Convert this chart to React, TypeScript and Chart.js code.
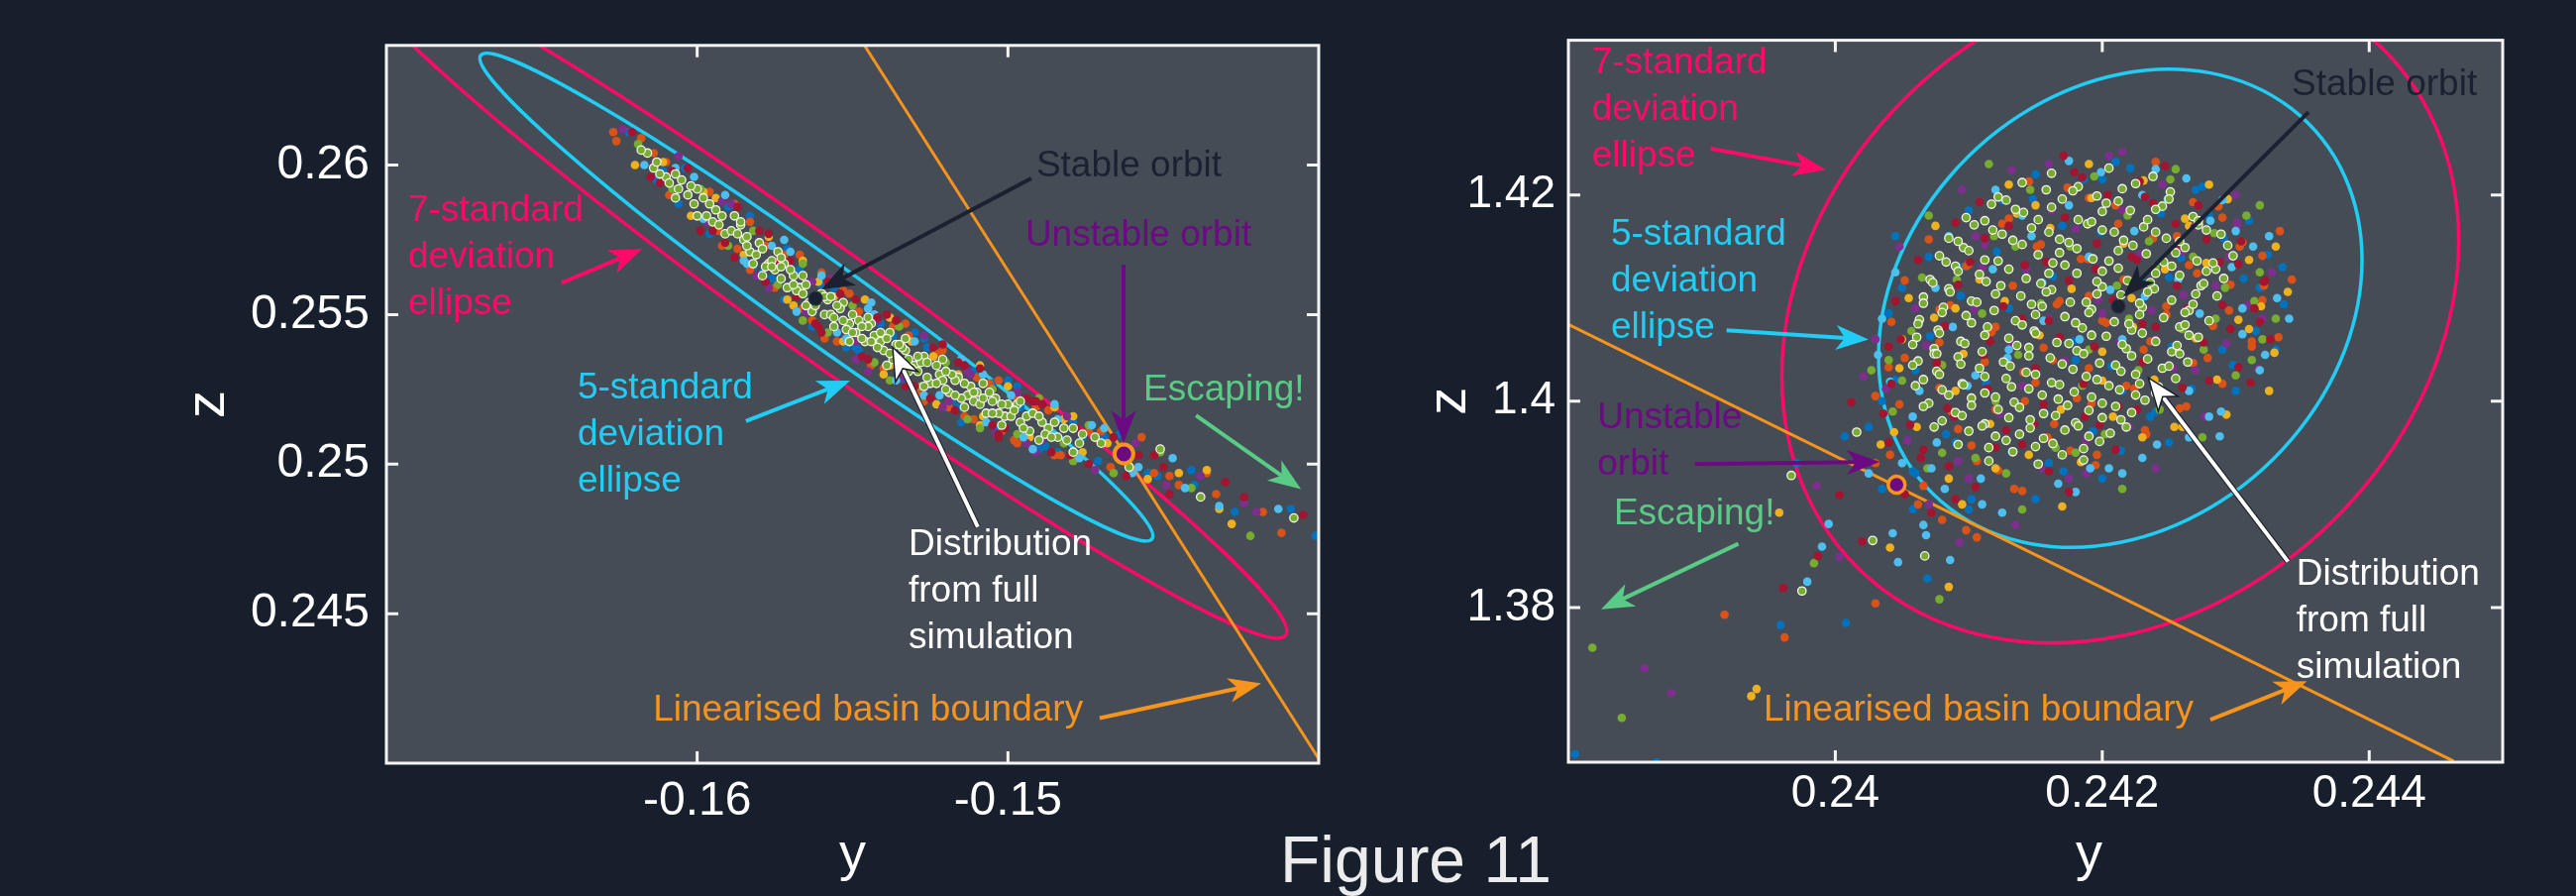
import { useEffect, useRef } from "react";
import { Chart, registerables } from "chart.js";

Chart.register(...registerables);

type P = [number, number];

const FONT = '"Liberation Sans", Arial, Helvetica, sans-serif';
const PAGE_BG = "#171e2c";
const PLOT_BG = "#464c56";
const FRAME = "#f4f4f4";
const PINK = "#ff0a68";
const CYAN = "#22cdf5";
const ORANGE = "#f7941d";
const PURPLE = "#6c0a84";
const NAVY = "#1a2232";
const GREEN_T = "#5acb86";
const WHITE = "#ffffff";
const M_BLUE = "#0072BD";
const M_ORANGE = "#D95319";
const M_YELLOW = "#EDB120";
const M_PURPLE = "#7E2F8E";
const M_GREEN = "#77AC30";
const M_LBLUE = "#4DBEEE";
const M_DRED = "#A2142F";
const NOTE_GAP = 47;

// ---------------- LEFT PANEL DATA ----------------
const leftXRange: P = [-0.17, -0.14];
const leftZRange: P = [0.24, 0.264];
const leftXTicks = [-0.16, -0.15];
const leftXTickLabels = ["-0.16", "-0.15"];
const leftZTicks = [0.245, 0.25, 0.255, 0.26];
const leftZTickLabels = ["0.245", "0.25", "0.255", "0.26"];

const leftStable: P = [-0.15619, 0.25554];
const leftUnstable: P = [-0.14627, 0.25034];
const leftBoundary: P[] = [[-0.154618, 0.264], [-0.139908, 0.24]];
const leftEllipseCenter: P = [-0.156164, 0.255582];
const leftEllipse5: P[] = [[0.010801, -0.008084], [-0.000779, -0.0010575]];
const leftEllipse7: P[] = [[0.015101, -0.011303], [-0.0010833, -0.0014702]];

const leftBlue: P[] = [[-0.1622,0.2611],[-0.1613,0.2595],[-0.1604,0.2599],[-0.1596,0.2577],[-0.1588,0.2583],[-0.1579,0.2564],[-0.1571,0.2572],[-0.1563,0.2546],[-0.1556,0.2559],[-0.1548,0.2538],[-0.1541,0.2547],[-0.1533,0.2527],[-0.1526,0.2539],[-0.1518,0.2521],[-0.1511,0.2531],[-0.1503,0.2512],[-0.1496,0.2519],[-0.1488,0.2506],[-0.1479,0.2514],[-0.1471,0.2501],[-0.1464,0.2510],[-0.1452,0.2496],[-0.1441,0.2498],[-0.1427,0.2484],[-0.1409,0.2485],[-0.1401,0.2476],
  [-0.1606,0.2587],[-0.1590,0.2586],[-0.1576,0.2562],[-0.1560,0.2560],[-0.1549,0.2539],[-0.1530,0.2544],[-0.1516,0.2519],[-0.1500,0.2528],[-0.1484,0.2504],[-0.1469,0.2509],[-0.1455,0.2497],[-0.1440,0.2493],
  [-0.1611,0.2598],[-0.1582,0.2566],[-0.1567,0.2565],[-0.1552,0.2539],[-0.1537,0.2543],[-0.1520,0.2519],[-0.1505,0.2527],[-0.1490,0.2505],[-0.1476,0.2509],
  [-0.1583,0.2583],[-0.1555,0.2561],[-0.1527,0.2542],[-0.1497,0.2526],[-0.1572,0.2555],[-0.1544,0.2533],[-0.1515,0.2514],[-0.1485,0.2503]];
const leftOrange: P[] = [[-0.1627,0.2611],[-0.1626,0.2608],[-0.1618,0.2609],[-0.1609,0.2590],[-0.1600,0.2592],[-0.1592,0.2573],[-0.1583,0.2581],[-0.1575,0.2559],[-0.1567,0.2570],[-0.1559,0.2542],[-0.1551,0.2557],[-0.1544,0.2533],[-0.1537,0.2546],[-0.1529,0.2524],[-0.1521,0.2538],[-0.1514,0.2516],[-0.1506,0.2527],[-0.1498,0.2508],[-0.1491,0.2519],[-0.1483,0.2503],[-0.1474,0.2511],[-0.1467,0.2499],[-0.1457,0.2509],[-0.1448,0.2496],[-0.1436,0.2497],[-0.1418,0.2484],[-0.1412,0.2477],
  [-0.1610,0.2601],[-0.1596,0.2591],[-0.1587,0.2572],[-0.1572,0.2570],[-0.1563,0.2548],[-0.1553,0.2558],[-0.1540,0.2532],[-0.1532,0.2543],[-0.1519,0.2519],[-0.1510,0.2529],[-0.1502,0.2511],[-0.1487,0.2518],[-0.1478,0.2502],[-0.1463,0.2506],[-0.1445,0.2493],[-0.1433,0.2490],
  [-0.1614,0.2604],[-0.1593,0.2578],[-0.1578,0.2573],[-0.1566,0.2552],[-0.1548,0.2551],[-0.1535,0.2529],[-0.1523,0.2537],[-0.1511,0.2515],[-0.1497,0.2522],[-0.1485,0.2503],[-0.1470,0.2511],[-0.1453,0.2497],
  [-0.1588,0.2587],[-0.1560,0.2564],[-0.1533,0.2547],[-0.1503,0.2528],[-0.1583,0.2565],[-0.1555,0.2541],[-0.1527,0.2521],[-0.1497,0.2507]];
const leftYellow: P[] = [[-0.1620,0.2600],[-0.1611,0.2601],[-0.1602,0.2583],[-0.1594,0.2589],[-0.1585,0.2570],[-0.1577,0.2576],[-0.1569,0.2553],[-0.1561,0.2561],[-0.1553,0.2541],[-0.1546,0.2555],[-0.1538,0.2533],[-0.1531,0.2541],[-0.1523,0.2520],[-0.1516,0.2530],[-0.1508,0.2516],[-0.1500,0.2526],[-0.1493,0.2509],[-0.1485,0.2519],[-0.1476,0.2504],[-0.1468,0.2507],[-0.1455,0.2495],[-0.1445,0.2497],[-0.1436,0.2498],[-0.1432,0.2485],[-0.1428,0.2480],
  [-0.1598,0.2591],[-0.1571,0.2555],[-0.1556,0.2556],[-0.1540,0.2530],[-0.1524,0.2536],[-0.1509,0.2513],[-0.1482,0.2515],
  [-0.1566,0.2568],[-0.1538,0.2549],[-0.1509,0.2533],[-0.1479,0.2516]];
const leftPurple: P[] = [[-0.1624,0.2612],[-0.1614,0.2600],[-0.1606,0.2603],[-0.1597,0.2581],[-0.1589,0.2587],[-0.1581,0.2563],[-0.1573,0.2569],[-0.1565,0.2551],[-0.1557,0.2562],[-0.1549,0.2541],[-0.1542,0.2548],[-0.1534,0.2529],[-0.1527,0.2543],[-0.1519,0.2521],[-0.1512,0.2530],[-0.1504,0.2510],[-0.1497,0.2524],[-0.1489,0.2508],[-0.1481,0.2516],[-0.1472,0.2498],[-0.1459,0.2507],[-0.1449,0.2493],[-0.1438,0.2496],[-0.1424,0.2487],[-0.1420,0.2484],
  [-0.1592,0.2588],[-0.1563,0.2561],[-0.1545,0.2531],[-0.1513,0.2531],[-0.1494,0.2507],
  [-0.1577,0.2559],[-0.1549,0.2535],[-0.1521,0.2519],[-0.1491,0.2504]];
const leftGreen: P[] = [[-0.1619,0.2607],[-0.1608,0.2592],[-0.1599,0.2592],[-0.1590,0.2573],[-0.1582,0.2578],[-0.1574,0.2560],[-0.1566,0.2567],[-0.1558,0.2544],[-0.1550,0.2553],[-0.1543,0.2534],[-0.1535,0.2546],[-0.1528,0.2526],[-0.1520,0.2534],[-0.1513,0.2515],[-0.1505,0.2525],[-0.1497,0.2510],[-0.1490,0.2522],[-0.1482,0.2507],[-0.1474,0.2513],[-0.1466,0.2497],[-0.1451,0.2504],[-0.1441,0.2492],[-0.1422,0.2476],
  [-0.1566,0.2548],[-0.1538,0.2528],[-0.1509,0.2512],[-0.1479,0.2501]];
const leftLightBlue: P[] = [[-0.1617,0.2600],[-0.1607,0.2599],[-0.1598,0.2582],[-0.1591,0.2590],[-0.1584,0.2567],[-0.1576,0.2573],[-0.1568,0.2551],[-0.1560,0.2563],[-0.1552,0.2542],[-0.1545,0.2552],[-0.1536,0.2528],[-0.1530,0.2541],[-0.1522,0.2523],[-0.1515,0.2535],[-0.1507,0.2514],[-0.1499,0.2523],[-0.1492,0.2505],[-0.1484,0.2515],[-0.1477,0.2502],[-0.1469,0.2512],[-0.1458,0.2499],[-0.1447,0.2502],[-0.1443,0.2492],[-0.1432,0.2486],[-0.1413,0.2485],
  [-0.1601,0.2596],[-0.1585,0.2568],[-0.1570,0.2571],[-0.1555,0.2544],[-0.1543,0.2550],[-0.1527,0.2523],[-0.1508,0.2530],[-0.1495,0.2509],[-0.1473,0.2513],[-0.1460,0.2497],
  [-0.1572,0.2575],[-0.1544,0.2554],[-0.1515,0.2535],[-0.1485,0.2520]];
const leftDarkRed: P[] = [[-0.1621,0.2611],[-0.1612,0.2594],[-0.1603,0.2599],[-0.1595,0.2578],[-0.1587,0.2586],[-0.1578,0.2561],[-0.1570,0.2568],[-0.1562,0.2547],[-0.1554,0.2557],[-0.1547,0.2536],[-0.1539,0.2550],[-0.1532,0.2531],[-0.1524,0.2539],[-0.1517,0.2518],[-0.1509,0.2532],[-0.1501,0.2512],[-0.1494,0.2522],[-0.1486,0.2504],[-0.1478,0.2512],[-0.1462,0.2496],[-0.1453,0.2503],[-0.1448,0.2490],[-0.1424,0.2489],[-0.1405,0.2483],
  [-0.1615,0.2596],[-0.1599,0.2578],[-0.1580,0.2578],[-0.1568,0.2556],[-0.1558,0.2561],[-0.1545,0.2535],[-0.1536,0.2548],[-0.1525,0.2522],[-0.1514,0.2533],[-0.1505,0.2513],[-0.1492,0.2521],[-0.1480,0.2503],[-0.1466,0.2509],[-0.1450,0.2499],[-0.1430,0.2494],
  [-0.1608,0.2598],[-0.1591,0.2574],[-0.1574,0.2568],[-0.1561,0.2546],[-0.1542,0.2549],[-0.1530,0.2526],[-0.1516,0.2534],[-0.1503,0.2510],[-0.1489,0.2520],[-0.1474,0.2500],[-0.1458,0.2503],
  [-0.1577,0.2577],[-0.1549,0.2555],[-0.1521,0.2540],[-0.1491,0.2521],[-0.1588,0.2569],[-0.1560,0.2544],[-0.1533,0.2526],[-0.1503,0.2509]];
const leftSim: P[] = [[-0.1616,0.2604],[-0.1610,0.2596],[-0.1618,0.2605],[-0.1612,0.2597],[-0.1607,0.2597],[-0.1607,0.2589],[-0.1603,0.2590],[-0.1600,0.2592],[-0.1600,0.2583],[-0.1597,0.2583],[-0.1594,0.2585],[-0.1591,0.2577],[-0.1588,0.2583],[-0.1585,0.2575],[-0.1582,0.2567],[-0.1580,0.2574],[-0.1577,0.2567],[-0.1574,0.2571],[-0.1571,0.2559],[-0.1569,0.2563],[-0.1566,0.2563],[-0.1564,0.2554],[-0.1558,0.2555],[-0.1556,0.2546],[-0.1553,0.2554],[-0.1551,0.2547],[-0.1548,0.2548],[-0.1546,0.2541],[-0.1543,0.2543],[-0.1540,0.2538],[-0.1538,0.2544],[-0.1535,0.2532],[-0.1533,0.2538],[-0.1530,0.2533],[-0.1527,0.2536],[-0.1525,0.2527],[-0.1522,0.2530],[-0.1519,0.2524],[-0.1516,0.2529],[-0.1513,0.2523],[-0.1510,0.2524],[-0.1507,0.2517],[-0.1504,0.2522],[-0.1501,0.2516],[-0.1497,0.2520],[-0.1493,0.2511],[-0.1489,0.2514],[-0.1484,0.2509],[-0.1479,0.2512],[-0.1479,0.2504],[-0.1461,0.2499],[-0.1451,0.2505],[-0.1438,0.2489],[-0.1408,0.2482],[-0.1584,0.2576],[-0.1576,0.2568],[-0.1572,0.2567],[-0.1567,0.2559],[-0.1561,0.2555],[-0.1559,0.2550],[-0.1554,0.2552],[-0.1549,0.2544],[-0.1544,0.2547],[-0.1541,0.2541],[-0.1536,0.2540],[-0.1531,0.2532],[-0.1528,0.2534],[-0.1521,0.2528],[-0.1517,0.2528],[-0.1511,0.2521],[-0.1505,0.2521],[-0.1499,0.2516],[-0.1494,0.2516],[-0.1487,0.2512],
  [-0.1614,0.2599],[-0.1609,0.2594],[-0.1605,0.2595],[-0.1601,0.2587],[-0.1598,0.2589],[-0.1595,0.2581],[-0.1592,0.2583],[-0.1589,0.2578],[-0.1586,0.2580],[-0.1583,0.2571],[-0.1579,0.2572],[-0.1578,0.2566],[-0.1575,0.2565],[-0.1573,0.2562],[-0.1570,0.2565],[-0.1568,0.2558],[-0.1565,0.2560],[-0.1563,0.2551],[-0.1560,0.2557],[-0.1557,0.2550],[-0.1555,0.2553],[-0.1552,0.2545],[-0.1550,0.2550],[-0.1547,0.2542],[-0.1545,0.2546],[-0.1542,0.2539],[-0.1539,0.2542],[-0.1537,0.2535],[-0.1534,0.2539],[-0.1532,0.2531],[-0.1529,0.2536],[-0.1526,0.2529],[-0.1523,0.2533],[-0.1520,0.2525],[-0.1518,0.2530],[-0.1515,0.2522],[-0.1512,0.2526],[-0.1509,0.2520],[-0.1506,0.2524],[-0.1503,0.2517],[-0.1500,0.2520],[-0.1496,0.2514],[-0.1492,0.2517],[-0.1488,0.2510],[-0.1485,0.2514],[-0.1481,0.2508],[-0.1476,0.2510],[-0.1470,0.2507],
  [-0.1613,0.2601],[-0.1606,0.2592],[-0.1602,0.2593],[-0.1596,0.2587],[-0.1593,0.2580],[-0.1587,0.2577],[-0.1584,0.2573],[-0.1581,0.2570],[-0.1576,0.2566],[-0.1573,0.2566],[-0.1569,0.2560],[-0.1566,0.2557],[-0.1562,0.2553],[-0.1559,0.2556],[-0.1556,0.2549],[-0.1553,0.2548],[-0.1550,0.2544],[-0.1547,0.2546],[-0.1544,0.2541],[-0.1541,0.2544],[-0.1538,0.2537],[-0.1535,0.2540],[-0.1532,0.2535],[-0.1529,0.2531],[-0.1526,0.2534],[-0.1523,0.2527],[-0.1520,0.2531],[-0.1517,0.2523],[-0.1514,0.2527],[-0.1511,0.2524],[-0.1508,0.2522],[-0.1505,0.2517],[-0.1502,0.2520],[-0.1498,0.2518],[-0.1495,0.2512],[-0.1490,0.2516],[-0.1486,0.2509],[-0.1482,0.2512],[-0.1477,0.2507],[-0.1472,0.2509],
  [-0.1586,0.2581],[-0.1579,0.2563],[-0.1573,0.2569],[-0.1565,0.2553],[-0.1557,0.2556],[-0.1551,0.2541],[-0.1545,0.2549],[-0.1539,0.2533],[-0.1533,0.2542],[-0.1527,0.2526],[-0.1521,0.2535],[-0.1514,0.2519],[-0.1508,0.2527],[-0.1502,0.2513],[-0.1496,0.2521],[-0.1490,0.2508]];

const leftNoteText: string[][] = [["7-standard","deviation","ellipse"],["5-standard","deviation","ellipse"],["Stable orbit"],["Unstable orbit"],["Escaping!"],["Distribution","from full","simulation"],["Linearised basin boundary"]];
const leftNoteAt: P[] = [[-0.16930,0.25846],[-0.16385,0.25253],[-0.14909,0.25995],[-0.14944,0.25764],[-0.14564,0.25247],[-0.15320,0.24731],[-0.16142,0.24177]];
const leftArrowFrom: P[] = [[-0.16436,0.25606],[-0.15843,0.25144],[-0.14925,0.25955],[-0.14628,0.25667],[-0.14395,0.25163],[-0.15097,0.24790],[-0.14705,0.24151]];
const leftArrowTo: P[] = [[-0.16177,0.25719],[-0.15508,0.25279],[-0.15600,0.25584],[-0.14628,0.25070],[-0.14057,0.24916],[-0.15371,0.25391],[-0.14185,0.24267]];

// ---------------- RIGHT PANEL DATA ----------------
const rightXRange: P = [0.238, 0.245];
const rightZRange: P = [1.365, 1.435];
const rightXTicks = [0.24, 0.242, 0.244];
const rightXTickLabels = ["0.24", "0.242", "0.244"];
const rightZTicks = [1.38, 1.4, 1.42];
const rightZTickLabels = ["1.38", "1.4", "1.42"];

const rightStable: P = [0.24212, 1.4092];
const rightUnstable: P = [0.240459, 1.3919];
const rightBoundary: P[] = [[0.238, 1.40744], [0.244632, 1.3651]];
const rightEllipseCenter: P = [0.242135, 1.40901];
const rightEllipse5: P[] = [[0.0018112, 0.0046915], [0, -0.022707]];
const rightEllipse7: P[] = [[0.0025357, 0.0065681], [0, -0.031789]];

const rightBlue: P[] = [[0.24025,1.3975],[0.24045,1.4021],[0.24058,1.3932],[0.24071,1.4063],[0.24083,1.3968],[0.24094,1.4102],[0.24102,1.3905],[0.24113,1.4018],[0.24121,1.4145],[0.24132,1.3951],[0.24139,1.4079],[0.24148,1.4196],[0.24157,1.3988],[0.24163,1.4121],[0.24171,1.3932],[0.24178,1.4058],[0.24186,1.4215],[0.24193,1.3971],[0.24199,1.4164],[0.24207,1.4034],[0.24214,1.3952],[0.24221,1.4226],[0.24229,1.4097],[0.24236,1.3985],[0.24244,1.4182],[0.24252,1.4053],[0.24259,1.4139],[0.24267,1.4012],[0.24275,1.4208],[0.24283,1.4077],[0.24291,1.4158],[0.24298,1.4035],[0.24306,1.4119],[0.24315,1.4068],[0.24324,1.4142],[0.24336,1.4094],[0.23805,1.3658],[0.23866,1.3650],[0.24008,1.3785],[0.23959,1.3783],[0.24069,1.3828],[0.24007,1.3966],[0.23971,1.3940],
  [0.24040,1.4085],[0.24035,1.4000],[0.24060,1.3930],[0.24100,1.3895],[0.24150,1.3905],[0.24200,1.3925],[0.24250,1.3960],[0.24300,1.4010],[0.24330,1.4050],[0.24335,1.4130],[0.24310,1.4175],[0.24270,1.4205],[0.24210,1.4232],[0.24150,1.4220],[0.24100,1.4185],[0.24070,1.4140],[0.24050,1.4110],[0.24180,1.4040],[0.24230,1.4115],[0.24130,1.4090],
  [0.24045,1.4160],[0.24060,1.4030],[0.24090,1.3960],[0.24160,1.3940],[0.24240,1.3990],[0.24290,1.4050],[0.24318,1.4110],[0.24280,1.4180],[0.24200,1.4215],[0.24125,1.4195],[0.24095,1.4130],[0.24170,1.4170],[0.24250,1.4120],[0.24215,1.4010],[0.24035,1.3915],[0.24058,1.3895]];
const rightOrange: P[] = [[0.24030,1.4005],[0.24041,1.3948],[0.24052,1.4042],[0.24066,1.3918],[0.24078,1.4089],[0.24087,1.3990],[0.24098,1.4131],[0.24106,1.3942],[0.24117,1.4067],[0.24125,1.4172],[0.24134,1.3915],[0.24141,1.4028],[0.24151,1.4150],[0.24159,1.3965],[0.24166,1.4094],[0.24174,1.4207],[0.24181,1.4003],[0.24189,1.4138],[0.24196,1.3948],[0.24203,1.4076],[0.24210,1.4190],[0.24218,1.4015],[0.24225,1.4119],[0.24233,1.3968],[0.24240,1.4232],[0.24248,1.4084],[0.24256,1.4160],[0.24263,1.3995],[0.24271,1.4124],[0.24279,1.4042],[0.24287,1.4189],[0.24295,1.4088],[0.24303,1.4150],[0.24312,1.4058],[0.24321,1.4112],[0.24333,1.4165],[0.24342,1.4118],[0.24163,1.4040],[0.24142,1.4000],[0.24190,1.4102],[0.24231,1.4050],[0.23917,1.3793],[0.23962,1.3771],[0.24030,1.3804],[0.24106,1.3868],[0.24332,1.4062],[0.24320,1.4141],
  [0.24145,1.4213],[0.24190,1.4197],[0.24268,1.4193],[0.24130,1.4177],[0.24212,1.4172],[0.24290,1.4178],[0.24070,1.4157],[0.24154,1.4152],[0.24238,1.4158],[0.24305,1.4154],[0.24100,1.4133],[0.24184,1.4138],[0.24265,1.4132],[0.24052,1.4117],[0.24133,1.4112],[0.24216,1.4118],[0.24296,1.4113],[0.24086,1.4093],[0.24168,1.4097],[0.24248,1.4092],[0.24320,1.4098],[0.24042,1.4077],[0.24120,1.4072],[0.24200,1.4078],[0.24283,1.4073],[0.24078,1.4057],[0.24156,1.4052],[0.24236,1.4058],[0.24312,1.4053],[0.24040,1.4033],[0.24112,1.4038],[0.24190,1.4032],[0.24268,1.4037],[0.24078,1.4013],[0.24150,1.4018],[0.24224,1.4012],[0.24290,1.4017],[0.24048,1.3997],[0.24120,1.3992],[0.24192,1.3998],[0.24258,1.3993],[0.24092,1.3973],[0.24164,1.3978],[0.24232,1.3972],[0.24102,1.3957],[0.24176,1.3952],[0.24122,1.3933],[0.24195,1.3938],[0.24140,1.3913],
  [0.24045,1.3925],[0.24062,1.3900],[0.24080,1.3885],[0.24098,1.3875],[0.24030,1.3940]];
const rightYellow: P[] = [[0.24034,1.3958],[0.24048,1.4032],[0.24061,1.3975],[0.24074,1.4081],[0.24085,1.3925],[0.24096,1.4046],[0.24108,1.4118],[0.24116,1.3978],[0.24127,1.4097],[0.24136,1.4182],[0.24145,1.3948],[0.24153,1.4064],[0.24161,1.4168],[0.24169,1.3992],[0.24177,1.4109],[0.24184,1.3941],[0.24192,1.4197],[0.24200,1.4048],[0.24208,1.3985],[0.24216,1.4153],[0.24223,1.4072],[0.24231,1.4214],[0.24239,1.4021],[0.24247,1.4128],[0.24254,1.3975],[0.24262,1.4177],[0.24270,1.4061],[0.24278,1.4134],[0.24286,1.4021],[0.24294,1.4196],[0.24302,1.4079],[0.24310,1.4137],[0.24319,1.4092],[0.24329,1.4047],[0.24339,1.4106],[0.24085,1.3820],[0.24041,1.3858],[0.23958,1.3892],[0.23937,1.3714],[0.23941,1.3721],[0.24293,1.3987],
  [0.24055,1.4100],[0.24044,1.3970],[0.24095,1.3900],[0.24170,1.3898],[0.24260,1.3975],[0.24325,1.4010],[0.24330,1.4150],[0.24280,1.4210],[0.24190,1.4230],[0.24130,1.4210],[0.24075,1.4170],[0.24150,1.4065],[0.24222,1.4100],[0.24090,1.4010],
  [0.24050,1.4060],[0.24120,1.3935],[0.24230,1.3965],[0.24310,1.4070],[0.24265,1.4170],[0.24150,1.4190],[0.24090,1.4090],[0.24200,1.4020]];
const rightPurple: P[] = [[0.24038,1.4012],[0.24054,1.3962],[0.24068,1.4054],[0.24081,1.4008],[0.24092,1.3942],[0.24104,1.4089],[0.24112,1.4152],[0.24123,1.3988],[0.24131,1.4057],[0.24143,1.4128],[0.24155,1.3935],[0.24162,1.4185],[0.24172,1.4039],[0.24180,1.4167],[0.24188,1.3962],[0.24197,1.4098],[0.24205,1.4238],[0.24213,1.4058],[0.24220,1.3975],[0.24228,1.4142],[0.24237,1.4088],[0.24245,1.4210],[0.24253,1.4032],[0.24261,1.4103],[0.24269,1.4169],[0.24277,1.3985],[0.24285,1.4112],[0.24293,1.4056],[0.24301,1.4173],[0.24309,1.4093],[0.24317,1.4031],[0.24327,1.4125],[0.23857,1.3741],[0.23877,1.3717],[0.24093,1.3863],[0.24003,1.3849],[0.24021,1.4024],[0.23986,1.3918],[0.24215,1.4242],[0.24301,1.4170],[0.24132,1.4224],
  [0.24048,1.4150],[0.24070,1.3900],[0.24135,1.3880],[0.24240,1.3935],[0.24320,1.4080],[0.24300,1.4200],[0.24160,1.4230],[0.24095,1.4205],[0.24200,1.4085],[0.24140,1.4015],[0.24260,1.4145],[0.24030,1.4060],[0.24188,1.3930],[0.24110,1.4130],
  [0.24060,1.4090],[0.24100,1.3925],[0.24175,1.3925],[0.24270,1.4030],[0.24295,1.4140],[0.24215,1.4185],[0.24105,1.4160],[0.24160,1.4080],[0.24240,1.4060]];
const rightGreen: P[] = [[0.24027,1.4030],[0.24043,1.3990],[0.24057,1.4068],[0.24069,1.3935],[0.24080,1.4035],[0.24091,1.4118],[0.24100,1.3972],[0.24110,1.4085],[0.24119,1.4160],[0.24128,1.3930],[0.24137,1.4045],[0.24146,1.4205],[0.24154,1.4095],[0.24165,1.3955],[0.24176,1.4150],[0.24185,1.4015],[0.24194,1.4218],[0.24202,1.3968],[0.24211,1.4112],[0.24219,1.4180],[0.24227,1.4030],[0.24235,1.4155],[0.24243,1.3992],[0.24251,1.4215],[0.24260,1.4070],[0.24268,1.4140],[0.24276,1.4050],[0.24284,1.4163],[0.24292,1.4110],[0.24300,1.4025],[0.24308,1.4180],[0.24318,1.4125],[0.24330,1.4080],[0.23818,1.3761],[0.23840,1.3693],[0.23984,1.3843],[0.24078,1.3808],[0.24314,1.4097],[0.24312,1.4040],
  [0.24050,1.4020],[0.24065,1.4120],[0.24080,1.3950],[0.24140,1.3895],[0.24215,1.3915],[0.24275,1.3965],[0.24320,1.4060],[0.24318,1.4190],[0.24255,1.4225],[0.24115,1.4230],[0.24070,1.4180],[0.24190,1.4050],[0.24240,1.4130],[0.24120,1.4000],
  [0.24040,1.4040],[0.24105,1.3945],[0.24180,1.3950],[0.24285,1.4080],[0.24245,1.4190],[0.24135,1.4150],[0.24220,1.4080]];
const rightLightBlue: P[] = [[0.24032,1.4045],[0.24050,1.3940],[0.24063,1.4010],[0.24076,1.3960],[0.24088,1.4072],[0.24099,1.4015],[0.24109,1.3925],[0.24118,1.4128],[0.24129,1.4042],[0.24138,1.3968],[0.24147,1.4160],[0.24156,1.4078],[0.24167,1.3920],[0.24175,1.4190],[0.24183,1.4060],[0.24191,1.3935],[0.24199,1.4222],[0.24206,1.4108],[0.24215,1.3930],[0.24224,1.4165],[0.24232,1.4102],[0.24241,1.3958],[0.24249,1.4196],[0.24257,1.4118],[0.24265,1.3965],[0.24273,1.4085],[0.24281,1.4175],[0.24289,1.3990],[0.24297,1.4130],[0.24305,1.4065],[0.24313,1.4150],[0.24322,1.4045],[0.24331,1.4100],[0.23995,1.3881],[0.23990,1.3859],[0.24043,1.3872],[0.24047,1.3844],[0.23979,1.3825],[0.24086,1.3846],[0.24066,1.3880],[0.24041,1.4019],[0.24288,1.3966],[0.24263,1.4216],
  [0.24045,1.4125],[0.24058,1.3985],[0.24082,1.3915],[0.24125,1.3892],[0.24180,1.3912],[0.24230,1.3945],[0.24280,1.3985],[0.24318,1.4030],[0.24340,1.4080],[0.24325,1.4160],[0.24290,1.4195],[0.24240,1.4225],[0.24175,1.4233],[0.24120,1.4205],[0.24085,1.4160],[0.24155,1.4115],[0.24215,1.4060],[0.24105,1.4025],
  [0.24035,1.4080],[0.24072,1.3935],[0.24110,1.3900],[0.24205,1.3935],[0.24265,1.4010],[0.24305,1.4090],[0.24300,1.4165],[0.24230,1.4200],[0.24140,1.4180],[0.24075,1.4110],[0.24190,1.4140],[0.24130,1.4050],[0.24025,1.3930],[0.24068,1.3870]];
const rightDarkRed: P[] = [[0.24036,1.3988],[0.24049,1.4060],[0.24064,1.3945],[0.24077,1.4030],[0.24089,1.3985],[0.24101,1.4135],[0.24111,1.4045],[0.24120,1.3955],[0.24130,1.4170],[0.24140,1.4080],[0.24149,1.3978],[0.24158,1.4135],[0.24168,1.4062],[0.24179,1.4222],[0.24187,1.3985],[0.24195,1.4128],[0.24204,1.4200],[0.24212,1.3995],[0.24222,1.4140],[0.24230,1.4075],[0.24238,1.4192],[0.24246,1.4005],[0.24255,1.4148],[0.24264,1.4090],[0.24272,1.4190],[0.24280,1.4020],[0.24288,1.4135],[0.24296,1.4070],[0.24304,1.4155],[0.24314,1.4090],[0.24326,1.4060],[0.23961,1.3819],[0.23987,1.3850],[0.24020,1.3864],[0.24003,1.3909],[0.24012,1.3999],[0.24171,1.4238],[0.24311,1.4018],[0.24321,1.4116],[0.24247,1.4228],
  [0.24185,1.4217],[0.24108,1.4193],[0.24232,1.4198],[0.24090,1.4173],[0.24172,1.4178],[0.24255,1.4172],[0.24112,1.4158],[0.24196,1.4153],[0.24278,1.4157],[0.24062,1.4137],[0.24142,1.4132],[0.24226,1.4137],[0.24302,1.4133],[0.24092,1.4113],[0.24175,1.4117],[0.24256,1.4112],[0.24322,1.4117],[0.24045,1.4097],[0.24126,1.4092],[0.24208,1.4098],[0.24290,1.4093],[0.24082,1.4073],[0.24160,1.4078],[0.24240,1.4072],[0.24318,1.4077],[0.24040,1.4053],[0.24116,1.4058],[0.24194,1.4053],[0.24276,1.4057],[0.24076,1.4037],[0.24150,1.4032],[0.24230,1.4038],[0.24302,1.4033],[0.24042,1.4017],[0.24114,1.4012],[0.24186,1.4017],[0.24260,1.4013],[0.24084,1.3993],[0.24156,1.3997],[0.24226,1.3992],[0.24056,1.3977],[0.24128,1.3972],[0.24198,1.3977],[0.24066,1.3953],[0.24140,1.3958],[0.24210,1.3953],[0.24085,1.3937],[0.24160,1.3932],[0.24105,1.3917],[0.24175,1.3912],[0.24228,1.4213],
  [0.24052,1.3910],[0.24072,1.3892],[0.24090,1.3905],[0.24040,1.3960]];
const rightSim: P[] = [[0.24162,1.4221],[0.24205,1.4226],[0.24238,1.4218],[0.24122,1.4198],[0.24158,1.4205],[0.24196,1.4199],[0.24251,1.4203],[0.24098,1.4178],[0.24141,1.4183],[0.24182,1.4176],[0.24221,1.4185],[0.24268,1.4179],[0.24085,1.4158],[0.24125,1.4162],[0.24168,1.4157],[0.24209,1.4164],[0.24248,1.4158],[0.24289,1.4162],[0.24078,1.4141],[0.24112,1.4137],[0.24152,1.4142],[0.24193,1.4138],[0.24233,1.4143],[0.24271,1.4136],[0.24298,1.4141],[0.24071,1.4118],[0.24108,1.4123],[0.24143,1.4119],[0.24181,1.4124],[0.24219,1.4117],[0.24258,1.4122],[0.24291,1.4119],[0.24066,1.4101],[0.24102,1.4097],[0.24139,1.4102],[0.24176,1.4096],[0.24214,1.4103],[0.24252,1.4098],[0.24286,1.4102],[0.24063,1.4079],[0.24098,1.4083],[0.24135,1.4078],[0.24172,1.4082],[0.24209,1.4077],[0.24246,1.4081],[0.24280,1.4078],[0.24061,1.4062],[0.24094,1.4058],[0.24130,1.4061],[0.24166,1.4057],[0.24203,1.4063],[0.24240,1.4058],[0.24272,1.4062],[0.24062,1.4039],[0.24092,1.4043],[0.24126,1.4038],[0.24161,1.4042],[0.24198,1.4037],[0.24234,1.4041],[0.24264,1.4038],[0.24066,1.4021],[0.24095,1.4017],[0.24128,1.4022],[0.24162,1.4018],[0.24196,1.4021],[0.24228,1.4017],[0.24255,1.4022],[0.24070,1.3998],[0.24102,1.4003],[0.24134,1.3999],[0.24167,1.4002],[0.24200,1.3998],[0.24232,1.4001],[0.24080,1.3981],[0.24112,1.3978],[0.24146,1.3982],[0.24180,1.3979],[0.24214,1.3982],[0.24092,1.3958],[0.24128,1.3962],[0.24163,1.3959],[0.24198,1.3961],[0.24115,1.3942],[0.24152,1.3939],[0.24186,1.3943],[0.24140,1.4212],[0.24182,1.4208],[0.24225,1.4211],[0.24117,1.4191],[0.24162,1.4188],[0.24203,1.4192],[0.24245,1.4189],[0.24104,1.4171],[0.24147,1.4168],[0.24189,1.4172],[0.24231,1.4169],[0.24272,1.4171],[0.24096,1.4149],[0.24140,1.4152],[0.24181,1.4148],[0.24223,1.4151],[0.24262,1.4149],[0.24294,1.4151],[0.24090,1.4131],[0.24130,1.4128],[0.24172,1.4132],[0.24212,1.4129],[0.24252,1.4131],[0.24285,1.4128],[0.24085,1.4109],[0.24124,1.4112],[0.24162,1.4108],[0.24200,1.4111],[0.24239,1.4109],[0.24274,1.4112],[0.24081,1.4091],[0.24119,1.4088],[0.24155,1.4092],[0.24192,1.4089],[0.24230,1.4091],[0.24265,1.4088],[0.24077,1.4069],[0.24114,1.4072],[0.24149,1.4068],[0.24185,1.4071],[0.24222,1.4069],[0.24258,1.4072],[0.24074,1.4051],[0.24110,1.4048],[0.24145,1.4052],[0.24181,1.4049],[0.24218,1.4051],[0.24252,1.4048],[0.24076,1.4029],[0.24108,1.4032],[0.24143,1.4028],[0.24178,1.4031],[0.24214,1.4029],[0.24245,1.4032],[0.24080,1.4011],[0.24112,1.4008],[0.24145,1.4012],[0.24179,1.4009],[0.24213,1.4011],[0.24240,1.4008],[0.24090,1.3989],[0.24122,1.3992],[0.24156,1.3988],[0.24190,1.3991],[0.24222,1.3989],[0.24100,1.3971],[0.24138,1.3968],[0.24172,1.3972],[0.24206,1.3969],[0.24133,1.3951],[0.24170,1.3948],[0.24067,1.3850],[0.23975,1.3816],[0.24028,1.3865],[0.24016,1.3970],[0.24074,1.4046],[0.23967,1.3928],
  [0.24128,1.4195],[0.24170,1.4196],[0.24212,1.4194],[0.24250,1.4196],[0.24112,1.4175],[0.24152,1.4176],[0.24192,1.4174],[0.24234,1.4176],[0.24272,1.4175],[0.24092,1.4155],[0.24133,1.4156],[0.24175,1.4154],[0.24216,1.4156],[0.24258,1.4155],[0.24083,1.4135],[0.24122,1.4136],[0.24163,1.4134],[0.24205,1.4136],[0.24246,1.4135],[0.24283,1.4134],[0.24073,1.4115],[0.24113,1.4116],[0.24154,1.4114],[0.24196,1.4116],[0.24236,1.4115],[0.24276,1.4114],[0.24066,1.4095],[0.24106,1.4096],[0.24147,1.4094],[0.24188,1.4096],[0.24228,1.4095],[0.24268,1.4094],[0.24062,1.4075],[0.24102,1.4076],[0.24140,1.4074],[0.24180,1.4076],[0.24220,1.4075],[0.24262,1.4074],[0.24058,1.4055],[0.24097,1.4056],[0.24136,1.4054],[0.24175,1.4056],[0.24215,1.4055],[0.24256,1.4054],[0.24058,1.4035],[0.24094,1.4036],[0.24131,1.4034],[0.24170,1.4036],[0.24210,1.4035],[0.24250,1.4034],[0.24060,1.4015],[0.24096,1.4016],[0.24132,1.4014],[0.24168,1.4016],[0.24205,1.4015],[0.24242,1.4014],[0.24066,1.3995],[0.24102,1.3996],[0.24138,1.3994],[0.24174,1.3996],[0.24210,1.3995],[0.24074,1.3975],[0.24110,1.3976],[0.24146,1.3974],[0.24182,1.3976],[0.24218,1.3975],[0.24115,1.3955],[0.24150,1.3956],[0.24186,1.3954],
  [0.24178,1.4204],[0.24215,1.4206],[0.24135,1.4186],[0.24200,1.4184],[0.24240,1.4186],[0.24118,1.4166],[0.24160,1.4164],[0.24200,1.4166],[0.24240,1.4164],[0.24278,1.4166],[0.24100,1.4146],[0.24168,1.4144],[0.24212,1.4146],[0.24255,1.4144],[0.24092,1.4126],[0.24160,1.4124],[0.24200,1.4126],[0.24240,1.4124],[0.24278,1.4126],[0.24086,1.4106],[0.24120,1.4104],[0.24158,1.4106],[0.24196,1.4104],[0.24234,1.4106],[0.24270,1.4104],[0.24080,1.4086],[0.24150,1.4084],[0.24190,1.4086],[0.24228,1.4084],[0.24262,1.4086],[0.24078,1.4066],[0.24112,1.4064],[0.24150,1.4066],[0.24192,1.4064],[0.24230,1.4066],[0.24265,1.4064],[0.24076,1.4046],[0.24145,1.4044],[0.24186,1.4046],[0.24222,1.4044],[0.24258,1.4046],[0.24078,1.4026],[0.24112,1.4024],[0.24150,1.4026],[0.24188,1.4024],[0.24225,1.4026],[0.24085,1.4006],[0.24120,1.4004],[0.24155,1.4006],[0.24192,1.4004],[0.24225,1.4006],[0.24095,1.3986],[0.24130,1.3984],[0.24165,1.3986],[0.24200,1.3984],[0.24120,1.3966],[0.24156,1.3964],[0.24190,1.3966]];

const rightNoteText: string[][] = [["7-standard","deviation","ellipse"],["5-standard","deviation","ellipse"],["Stable orbit"],["Unstable","orbit"],["Escaping!"],["Distribution","from full","simulation"],["Linearised basin boundary"]];
const rightNoteAt: P[] = [[0.238176,1.43278],[0.238319,1.41617],[0.243419,1.4307],[0.238217,1.39841],[0.238341,1.38902],[0.243454,1.38321],[0.239462,1.36999]];
const rightArrowFrom: P[] = [[0.239067,1.42449],[0.239185,1.40688],[0.243545,1.42803],[0.238948,1.3939],[0.239273,1.38618],[0.243392,1.38445],[0.24281,1.36913]];
const rightArrowTo: P[] = [[0.239928,1.42245],[0.240249,1.40598],[0.242157,1.41013],[0.240331,1.39412],[0.238245,1.37983],[0.242345,1.40228],[0.243534,1.37286]];
const rightXTitleAt = 0.2419;

const noteColors = [PINK, CYAN, NAVY, PURPLE, GREEN_T, WHITE, ORANGE];

// ---------------- helpers ----------------
const pts = (a: P[]) => a.map(([x, y]) => ({ x, y }));

function tickLabel(values: number[], labels: string[]) {
  return (v: number | string) => {
    const i = values.findIndex((t) => Math.abs(t - Number(v)) < 1e-9);
    return i >= 0 ? labels[i] : "";
  };
}

function drawEllipse(chart: any, c: P, axes: P[], color: string, lw: number) {
  const { ctx, chartArea: a, scales } = chart;
  const xs = scales.x, ys = scales.y;
  const cx = xs.getPixelForValue(c[0]);
  const cy = ys.getPixelForValue(c[1]);
  const ux = xs.getPixelForValue(c[0] + axes[0][0]) - cx;
  const uy = ys.getPixelForValue(c[1] + axes[0][1]) - cy;
  const vx = xs.getPixelForValue(c[0] + axes[1][0]) - cx;
  const vy = ys.getPixelForValue(c[1] + axes[1][1]) - cy;
  const R = 1000;
  ctx.save();
  ctx.beginPath();
  ctx.rect(a.left, a.top, a.right - a.left, a.bottom - a.top);
  ctx.clip();
  ctx.beginPath();
  ctx.save();
  ctx.transform(ux / R, uy / R, vx / R, vy / R, cx, cy);
  ctx.arc(0, 0, R, 0, Math.PI * 2);
  ctx.restore();
  ctx.lineWidth = lw;
  ctx.strokeStyle = color;
  ctx.stroke();
  ctx.restore();
}

function drawArrow(ctx: CanvasRenderingContext2D, x1: number, y1: number, x2: number, y2: number, color: string, outline: boolean) {
  const L = 33, W = 12.5, N = 9;
  const dx = x2 - x1, dy = y2 - y1;
  const len = Math.hypot(dx, dy) || 1;
  const ux = dx / len, uy = dy / len, nx = -uy, ny = ux;
  const bx = x2 - ux * (L - N), by = y2 - uy * (L - N);
  ctx.save();
  ctx.lineCap = "butt";
  if (outline) {
    ctx.strokeStyle = "#1a1f28";
    ctx.lineWidth = 6;
    ctx.beginPath(); ctx.moveTo(x1, y1); ctx.lineTo(bx, by); ctx.stroke();
  }
  ctx.strokeStyle = color;
  ctx.lineWidth = 4;
  ctx.beginPath(); ctx.moveTo(x1, y1); ctx.lineTo(bx, by); ctx.stroke();
  ctx.beginPath();
  ctx.moveTo(x2, y2);
  ctx.lineTo(x2 - ux * L + nx * W, y2 - uy * L + ny * W);
  ctx.lineTo(bx, by);
  ctx.lineTo(x2 - ux * L - nx * W, y2 - uy * L - ny * W);
  ctx.closePath();
  ctx.fillStyle = color;
  ctx.fill();
  if (outline) {
    ctx.strokeStyle = "#1a1f28";
    ctx.lineWidth = 1.5;
    ctx.stroke();
  }
  ctx.restore();
}

interface Panel {
  id: string;
  xRange: P; zRange: P;
  xTicks: number[]; xTickLabels: string[];
  zTicks: number[]; zTickLabels: string[];
  tickFont: number; xTickPad: number; yTickPad: number;
  pad: { left: number; top: number; right: number; bottom: number };
  yWidth: number;
  stable: P; unstable: P; unstableR: number; unstableB: number;
  boundary: P[];
  center: P; e5: P[]; e7: P[];
  series: P[][]; sim: P[];
  noteText: string[][]; noteAt: P[]; arrowFrom: P[]; arrowTo: P[];
  builtinXTitle: boolean; customXTitleAt?: number;
}

const leftPanel: Panel = {
  id: "L", xRange: leftXRange, zRange: leftZRange,
  xTicks: leftXTicks, xTickLabels: leftXTickLabels, zTicks: leftZTicks, zTickLabels: leftZTickLabels,
  tickFont: 48, xTickPad: 10, yTickPad: 17,
  pad: { left: 183, top: 23, right: 69, bottom: 14 }, yWidth: 207,
  stable: leftStable, unstable: leftUnstable, unstableR: 9.5, unstableB: 4,
  boundary: leftBoundary, center: leftEllipseCenter, e5: leftEllipse5, e7: leftEllipse7,
  series: [leftBlue, leftOrange, leftYellow, leftPurple, leftGreen, leftLightBlue, leftDarkRed], sim: leftSim,
  noteText: leftNoteText, noteAt: leftNoteAt, arrowFrom: leftArrowFrom, arrowTo: leftArrowTo,
  builtinXTitle: true,
};

const rightPanel: Panel = {
  id: "R", xRange: rightXRange, zRange: rightZRange,
  xTicks: rightXTicks, xTickLabels: rightXTickLabels, zTicks: rightZTicks, zTickLabels: rightZTickLabels,
  tickFont: 46, xTickPad: 5, yTickPad: 13,
  pad: { left: 36, top: 23, right: 74, bottom: 15 }, yWidth: 147,
  stable: rightStable, unstable: rightUnstable, unstableR: 8.5, unstableB: 3.5,
  boundary: rightBoundary, center: rightEllipseCenter, e5: rightEllipse5, e7: rightEllipse7,
  series: [rightBlue, rightOrange, rightYellow, rightPurple, rightGreen, rightLightBlue, rightDarkRed], sim: rightSim,
  noteText: rightNoteText, noteAt: rightNoteAt, arrowFrom: rightArrowFrom, arrowTo: rightArrowTo,
  builtinXTitle: false, customXTitleAt: rightXTitleAt,
};

const seriesColors = [M_BLUE, M_ORANGE, M_YELLOW, M_PURPLE, M_GREEN, M_LBLUE, M_DRED];

function makeConfig(p: Panel): any {
  const datasets: any[] = [];
  datasets.push({ label: "stable", data: pts([p.stable]), pointRadius: 7, backgroundColor: NAVY, borderColor: "#2c3546", borderWidth: 1.2, order: 0 });
  datasets.push({ label: "unstable", data: pts([p.unstable]), pointRadius: p.unstableR, backgroundColor: PURPLE, borderColor: ORANGE, borderWidth: p.unstableB, order: 0 });
  datasets.push({ label: "sim", data: pts(p.sim), pointRadius: 4.2, backgroundColor: M_GREEN, borderColor: "#f4f4ea", borderWidth: 1.3, order: 1 });
  p.series.forEach((s, i) => {
    datasets.push({ label: "s" + i, data: pts(s), pointRadius: 4.3, backgroundColor: seriesColors[i], borderColor: seriesColors[i], borderWidth: 0, order: 8 - i });
  });
  datasets.push({ label: "boundary", data: pts(p.boundary), showLine: true, pointRadius: 0, borderColor: ORANGE, borderWidth: 3, fill: false, clip: 0, order: 20 });

  const plugin = {
    id: "deco" + p.id,
    beforeDraw(chart: any) {
      const { ctx, chartArea: a } = chart;
      ctx.save();
      ctx.fillStyle = PLOT_BG;
      ctx.fillRect(a.left, a.top, a.right - a.left, a.bottom - a.top);
      ctx.restore();
    },
    beforeDatasetsDraw(chart: any) {
      drawEllipse(chart, p.center, p.e7, PINK, 3.5);
      drawEllipse(chart, p.center, p.e5, CYAN, 3.5);
    },
    afterDatasetsDraw(chart: any) {
      const { ctx, chartArea: a, scales } = chart;
      const xs = scales.x, ys = scales.y;
      ctx.save();
      ctx.strokeStyle = FRAME;
      ctx.lineWidth = 3;
      ctx.strokeRect(a.left, a.top, a.right - a.left, a.bottom - a.top);
      ctx.beginPath();
      p.xTicks.forEach((v) => {
        const x = xs.getPixelForValue(v);
        ctx.moveTo(x, a.bottom); ctx.lineTo(x, a.bottom - 12);
        ctx.moveTo(x, a.top); ctx.lineTo(x, a.top + 12);
      });
      p.zTicks.forEach((v) => {
        const y = ys.getPixelForValue(v);
        ctx.moveTo(a.left, y); ctx.lineTo(a.left + 12, y);
        ctx.moveTo(a.right, y); ctx.lineTo(a.right - 12, y);
      });
      ctx.stroke();

      p.arrowFrom.forEach((f, i) => {
        const t = p.arrowTo[i];
        drawArrow(ctx, xs.getPixelForValue(f[0]), ys.getPixelForValue(f[1]), xs.getPixelForValue(t[0]), ys.getPixelForValue(t[1]), noteColors[i], noteColors[i] === WHITE);
      });

      ctx.font = `37px ${FONT}`;
      ctx.textBaseline = "middle";
      ctx.textAlign = "left";
      p.noteText.forEach((lines, i) => {
        const x0 = xs.getPixelForValue(p.noteAt[i][0]);
        const y0 = ys.getPixelForValue(p.noteAt[i][1]);
        ctx.fillStyle = noteColors[i];
        lines.forEach((t, j) => ctx.fillText(t, x0, y0 + j * NOTE_GAP));
      });

      if (p.customXTitleAt !== undefined) {
        ctx.font = `54px ${FONT}`;
        ctx.textAlign = "center";
        ctx.fillStyle = WHITE;
        ctx.fillText("y", xs.getPixelForValue(p.customXTitleAt), a.bottom + 94);
      }
      ctx.restore();
    },
  };

  return {
    type: "scatter",
    data: { datasets },
    plugins: [plugin],
    options: {
      animation: false,
      responsive: false,
      maintainAspectRatio: false,
      devicePixelRatio: 1,
      events: [],
      layout: { padding: p.pad },
      plugins: { legend: { display: false }, tooltip: { enabled: false } },
      scales: {
        x: {
          type: "linear",
          position: "bottom",
          min: p.xRange[0],
          max: p.xRange[1],
          afterBuildTicks: (s: any) => { s.ticks = p.xTicks.map((v) => ({ value: v })); },
          afterFit: (s: any) => { s.height = 120; },
          grid: { display: false, drawTicks: false },
          border: { display: false },
          ticks: { color: WHITE, autoSkip: false, maxRotation: 0, padding: p.xTickPad, font: { family: FONT, size: p.tickFont, lineHeight: 1.2 }, callback: tickLabel(p.xTicks, p.xTickLabels) },
          title: { display: p.builtinXTitle, text: "y", color: WHITE, padding: 0, font: { family: FONT, size: 54, lineHeight: 1 } },
        },
        y: {
          type: "linear",
          position: "left",
          min: p.zRange[0],
          max: p.zRange[1],
          afterBuildTicks: (s: any) => { s.ticks = p.zTicks.map((v) => ({ value: v })); },
          afterFit: (s: any) => { s.width = p.yWidth; },
          grid: { display: false, drawTicks: false },
          border: { display: false },
          ticks: { color: WHITE, autoSkip: false, padding: p.yTickPad, font: { family: FONT, size: p.tickFont, lineHeight: 1.2 }, callback: tickLabel(p.zTicks, p.zTickLabels) },
          title: { display: true, text: "z", color: WHITE, padding: 0, font: { family: FONT, size: 56, lineHeight: 1 } },
        },
      },
    },
  };
}

export default function App() {
  const leftRef = useRef<HTMLCanvasElement>(null);
  const rightRef = useRef<HTMLCanvasElement>(null);
  useEffect(() => {
    const c1 = new Chart(leftRef.current as HTMLCanvasElement, makeConfig(leftPanel));
    const c2 = new Chart(rightRef.current as HTMLCanvasElement, makeConfig(rightPanel));
    return () => { c1.destroy(); c2.destroy(); };
  }, []);
  return (
    <div style={{ position: "absolute", left: 0, top: 0, width: 2600, height: 904, background: PAGE_BG, overflow: "hidden" }}>
      <canvas ref={leftRef} width={1400} height={904} style={{ position: "absolute", left: 0, top: 0, width: 1400, height: 904 }} />
      <canvas ref={rightRef} width={1200} height={904} style={{ position: "absolute", left: 1400, top: 0, width: 1200, height: 904 }} />
      <div style={{ position: "absolute", left: 1292, top: 834, fontFamily: FONT, fontSize: 66, lineHeight: "66px", color: "#ececec", whiteSpace: "nowrap" }}>Figure 11</div>
    </div>
  );
}
